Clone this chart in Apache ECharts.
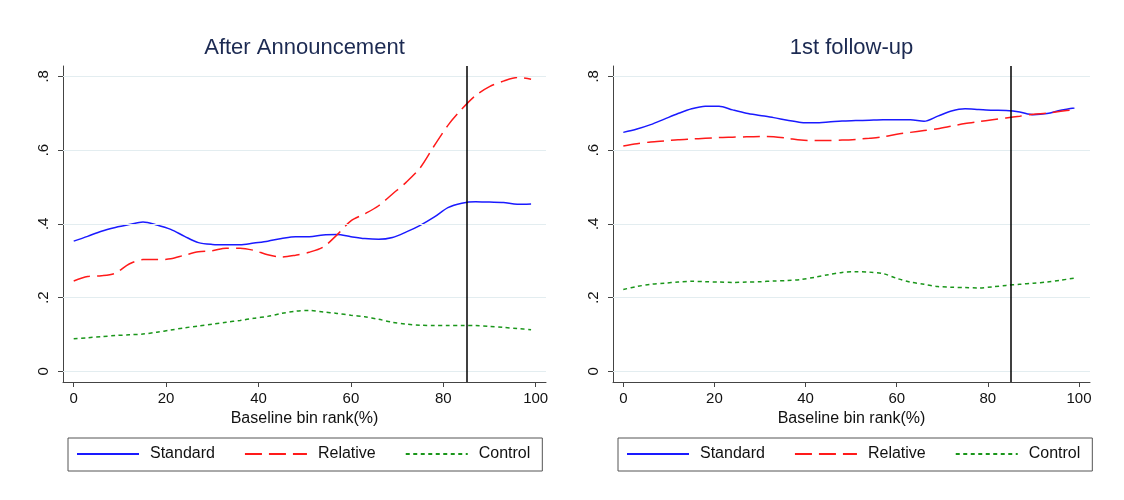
<!DOCTYPE html>
<html>
<head>
<meta charset="utf-8">
<script src="https://cdn.jsdelivr.net/npm/echarts@6/dist/echarts.min.js"></script>
<style>html,body{margin:0;padding:0;background:#fff;}#c{width:1124px;height:500px;}</style>
</head>
<body>
<div id="c"></div>
<script>
var binRank = [0,3,6,9,12,15,18,21,24,27,30,33,36,39,42,45,48,51,54,57,60,63,66,69,72,75,78,81,84,87,90,93,96,99];
var xTicks = [0,20,40,60,80,100];
var yTicks = [0,0.2,0.4,0.6,0.8];
var cutoff = 85;
var panelTitles = ['After Announcement', '1st follow-up'];
var seriesNames = ['Standard','Relative','Control'];

var annStandard = [0.353,0.366,0.380,0.390,0.398,0.405,0.397,0.385,0.366,0.349,0.344,0.343,0.343,0.348,0.353,0.360,0.365,0.365,0.370,0.371,0.365,0.360,0.358,0.363,0.378,0.396,0.418,0.444,0.456,0.460,0.459,0.458,0.453,0.454];
var annRelative = [0.245,0.257,0.259,0.266,0.291,0.303,0.303,0.305,0.315,0.324,0.327,0.334,0.334,0.328,0.316,0.310,0.315,0.323,0.337,0.370,0.408,0.427,0.449,0.481,0.513,0.552,0.611,0.667,0.711,0.748,0.772,0.787,0.797,0.792];
var annControl = [0.088,0.091,0.094,0.097,0.099,0.101,0.106,0.112,0.118,0.123,0.128,0.133,0.138,0.144,0.149,0.157,0.163,0.165,0.161,0.157,0.152,0.148,0.141,0.133,0.128,0.125,0.124,0.124,0.124,0.124,0.122,0.119,0.116,0.113];

var fupStandard = [0.648,0.657,0.669,0.684,0.699,0.712,0.719,0.719,0.709,0.700,0.694,0.688,0.681,0.675,0.674,0.676,0.679,0.680,0.681,0.682,0.682,0.682,0.678,0.692,0.706,0.712,0.710,0.708,0.707,0.703,0.696,0.699,0.708,0.714];
var fupRelative = [0.611,0.617,0.622,0.625,0.628,0.630,0.632,0.634,0.635,0.636,0.637,0.636,0.632,0.627,0.626,0.626,0.627,0.629,0.632,0.636,0.643,0.648,0.653,0.658,0.665,0.672,0.677,0.682,0.687,0.692,0.697,0.700,0.705,0.710];
var fupControl = [0.222,0.230,0.236,0.239,0.242,0.244,0.243,0.242,0.241,0.242,0.243,0.245,0.246,0.249,0.255,0.262,0.268,0.270,0.269,0.265,0.252,0.242,0.236,0.230,0.228,0.227,0.226,0.229,0.233,0.236,0.239,0.242,0.247,0.253];

var FONT = '"Liberation Sans", Arial, Helvetica, sans-serif';
var colors = ['#1a1aff', '#ff1a1a', '#1a961a'];
var dashes = ['solid', [17, 7], [4, 3.5]];

function pairs(ys){ return binRank.map(function(x,i){ return [x, ys[i]]; }); }

var grids = [
  {left: 63, width: 483, top: 66, bottom: 118},
  {left: 613, right: 34, top: 66, bottom: 118}
];
var xRanges = [[-2.32, 102.23], [-2.26, 102.41]];

var xAxes = [], yAxes = [], series = [];
[0,1].forEach(function(g){
  xAxes.push({
    type: 'value', gridIndex: g, min: xRanges[g][0], max: xRanges[g][1],
    name: 'Baseline bin rank(%)', nameLocation: 'middle', nameGap: 29,
    nameTextStyle: {fontFamily: FONT, fontSize: 16, color: '#111'},
    axisLine: {show: true, onZero: false, lineStyle: {color: '#444', width: 1}},
    axisTick: {show: true, length: 5, customValues: xTicks, lineStyle: {color: '#444'}},
    axisLabel: {customValues: xTicks, fontFamily: FONT, fontSize: 15, color: '#111', margin: 9},
    splitLine: {show: false}
  });
  yAxes.push({
    type: 'value', gridIndex: g, min: -0.029, max: 0.828,
    axisLine: {show: true, onZero: false, lineStyle: {color: '#444', width: 1}},
    axisTick: {show: true, length: 5, customValues: yTicks, lineStyle: {color: '#444'}},
    axisLabel: {customValues: yTicks, rotate: 90, fontFamily: FONT, fontSize: 15, color: '#111', margin: 12,
      formatter: function(v){ return v === 0 ? '0' : String(Math.round(v*10)/10).replace(/^0/, ''); }},
    splitLine: {show: false}
  });
  series.push({
    type: 'line', xAxisIndex: g, yAxisIndex: g, data: [[0,0]], symbol: 'none', z: 0,
    lineStyle: {opacity: 0}, silent: true, tooltip: {show: false},
    markLine: {silent: true, symbol: 'none', label: {show: false}, animation: false,
      lineStyle: {color: '#e3edf0', width: 1, type: 'solid'},
      data: yTicks.map(function(v){ return {yAxis: v}; })}
  });
  series.push({
    type: 'line', xAxisIndex: g, yAxisIndex: g, data: [[0,0]], symbol: 'none', z: 5,
    lineStyle: {opacity: 0}, silent: true,
    markLine: {silent: true, symbol: 'none', label: {show: false}, animation: false,
      lineStyle: {color: '#000', width: 1.5, type: 'solid'},
      data: [{xAxis: cutoff}]}
  });
});

var panelData = [[annStandard, annRelative, annControl], [fupStandard, fupRelative, fupControl]];
[0,1].forEach(function(g){
  panelData[g].forEach(function(ys, k){
    series.push({
      name: seriesNames[k], type: 'line', xAxisIndex: g, yAxisIndex: g,
      data: pairs(ys), showSymbol: false, symbol: 'none', smooth: 0.3, z: 3,
      color: colors[k],
      lineStyle: {color: colors[k], width: 1.5, type: dashes[k]}
    });
  });
});

function legendAt(left){
  return {
    data: seriesNames, left: left, top: 438, orient: 'horizontal',
    itemWidth: 62, itemHeight: 12, itemGap: 29,
    itemStyle: {opacity: 0, borderWidth: 0},
    borderColor: '#555', borderWidth: 1, padding: [8, 12, 9, 8],
    textStyle: {fontFamily: FONT, fontSize: 16, color: '#111', padding: [0, 0, 0, 6]},
    selectedMode: false
  };
}

var chart = echarts.init(document.getElementById('c'), null, {renderer: 'canvas'});
chart.setOption({
  backgroundColor: '#fff',
  animation: false,
  title: [
    {text: panelTitles[0], left: 304.5, top: 37, textAlign: 'center', padding: 0,
     textStyle: {fontFamily: FONT, fontSize: 22, fontWeight: 'normal', color: '#1c2a52'}},
    {text: panelTitles[1], left: 851.5, top: 37, textAlign: 'center', padding: 0,
     textStyle: {fontFamily: FONT, fontSize: 22, fontWeight: 'normal', color: '#1c2a52'}}
  ],
  legend: [legendAt(68), legendAt(618)],
  grid: grids,
  xAxis: xAxes,
  yAxis: yAxes,
  series: series
});
</script>
</body>
</html>
